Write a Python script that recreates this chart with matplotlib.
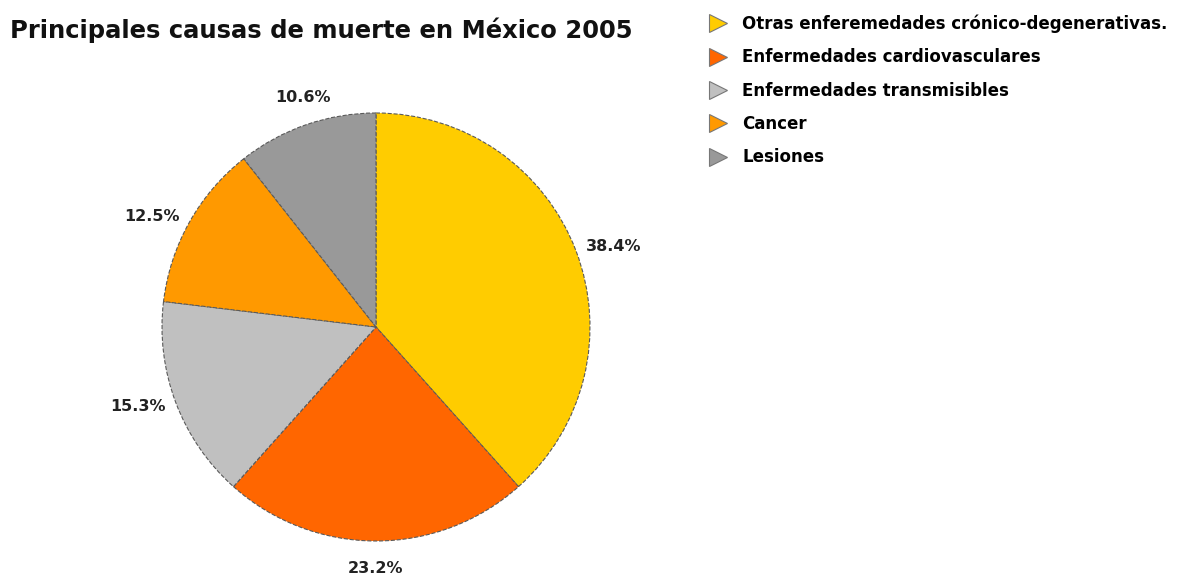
import matplotlib
matplotlib.use('Agg')
import matplotlib.pyplot as plt
from matplotlib.lines import Line2D

# Data
causas = ['Otras enferemedades crónico-degenerativas.',
          'Enfermedades cardiovasculares',
          'Enfermedades transmisibles',
          'Cancer',
          'Lesiones']
porcentajes = [38.4, 23.2, 15.3, 12.5, 10.6]
colores = ['#FFCC00', '#FF6600', '#C0C0C0', '#FF9900', '#999999']

plt.rcParams['font.family'] = ['DejaVu Sans']
plt.rcParams['font.weight'] = 'bold'

fig = plt.figure(figsize=(11.82, 5.76), dpi=100)
W, H = 1182, 576

# pie axes: center (376, 327) px, radius 214 px
cx, cy, r = 376, 327, 214
ax = fig.add_axes([(cx - r) / W, (H - cy - r) / H, 2 * r / W, 2 * r / H])
wedges, texts = ax.pie(porcentajes, colors=colores, startangle=90, counterclock=False,
                       labels=[f'{p}%' for p in porcentajes], labeldistance=1.05,
                       wedgeprops=dict(edgecolor='#5a5a5a', linewidth=0.8, linestyle='--'),
                       textprops=dict(fontsize=11.5, fontweight='bold', color='#222222'))
# labels near the top/bottom: centred and pushed a bit further out
for t in texts:
    t.set_clip_on(False)
    x, y = t.get_position()
    if abs(x) < 0.5:
        t.set_ha('center')
        t.set_position((x, y + 0.08 * (1 if y > 0 else -1)))
ax.set_xlim(-1, 1)
ax.set_ylim(-1, 1)
ax.set_aspect('equal')
ax.axis('off')

fig.text(10 / W, 1 - 30 / H, 'Principales causas de muerte en México 2005',
         fontsize=17.5, fontweight='bold', color='#111111', va='center', ha='left')

handles = [Line2D([], [], linestyle='none', marker='>', markersize=13,
                  markerfacecolor=c, markeredgecolor='#777777', markeredgewidth=0.8)
           for c in colores]
leg = fig.legend(handles, causas, loc='upper left', bbox_to_anchor=(702 / W, 1 - 8 / H),
                 frameon=False, prop=dict(size=12, weight='bold'),
                 handlelength=1.1, handletextpad=0.9, labelspacing=0.92, borderaxespad=0)

fig.savefig('out.png', dpi=100)
